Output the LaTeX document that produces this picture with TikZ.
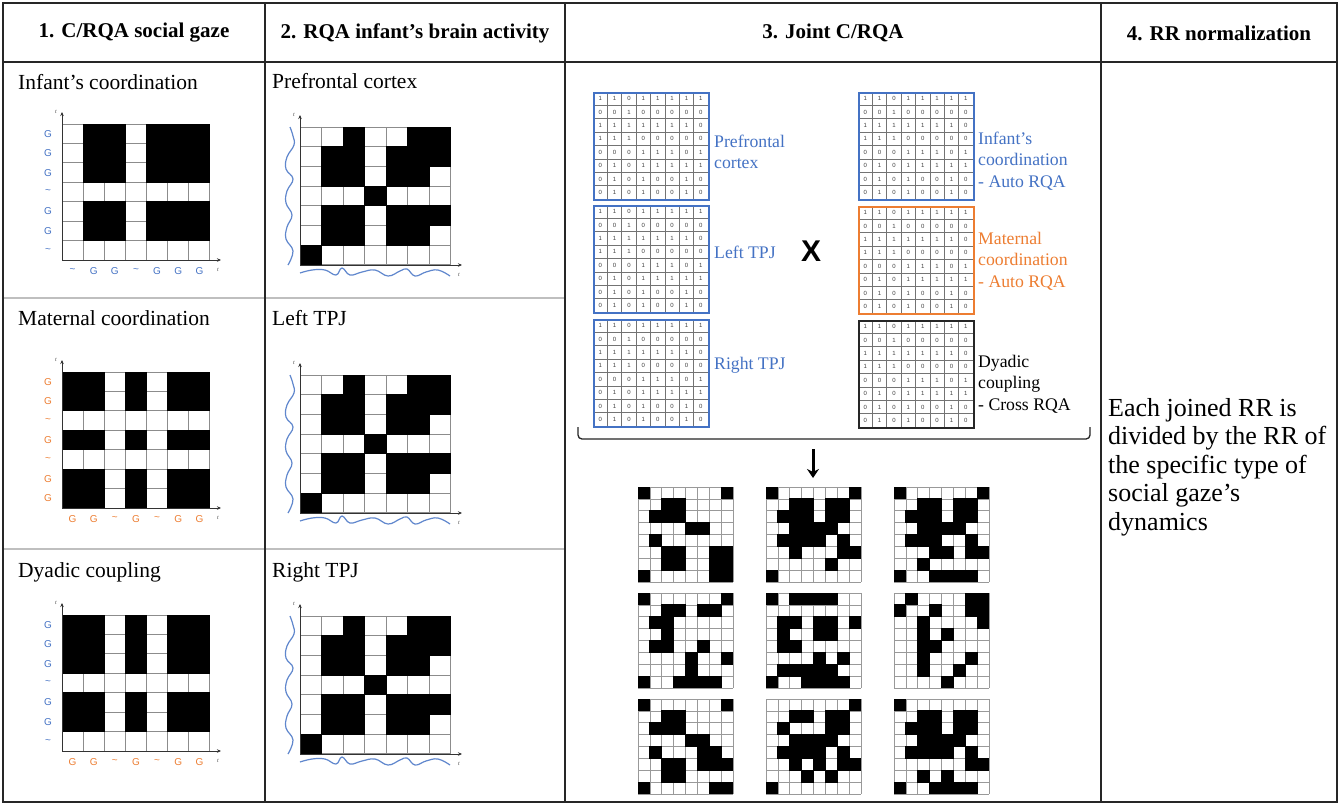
\documentclass[tikz,border=0pt]{standalone}
\usepackage{fontspec}
\setmainfont{Liberation Serif}
\newfontfamily\lsans{Liberation Sans}
\usetikzlibrary{arrows.meta}
\definecolor{obblue}{HTML}{4472C4}
\definecolor{oborange}{HTML}{ED7D31}

% generic black/white cell matrix: name, x0, y0, cw, ch, ncols, nrows, rows
\newcommand{\cellgrid}[8]{%
  \foreach \i in {0,...,#6} {\draw[gridline] ({#2+\i*#4},#3) -- ({#2+\i*#4},{#3+#7*#5});}
  \foreach \j in {0,...,#7} {\draw[gridline] (#2,{#3+\j*#5}) -- ({#2+#6*#4},{#3+\j*#5});}
  \foreach \row [count=\r from 0] in {#8} {%
    \foreach \v [count=\c from 0] in \row {%
      \ifnum\v=1
        \fill[black] ({#2+\c*#4-0.45},{#3+\r*#5-0.45}) rectangle ({#2+(\c+1)*#4+0.45},{#3+(\r+1)*#5+0.45});
      \fi
    }%
  }%
  \node[inner sep=0, minimum width={#6*#4}, minimum height={#7*#5}, anchor=north west] (#1) at (#2,#3) {};
}

% binary digit matrix: name, x0, y0, colour
\newcommand{\binmat}[4]{%
  \foreach \j in {1,...,7} {\draw[bingrid] (#2,{#3+\j*13.375}) -- ({#2+115},{#3+\j*13.375});}
  \foreach \i in {1,...,7} {\draw[bingrid] ({#2+\i*14.375},#3) -- ({#2+\i*14.375},{#3+107});}
  \foreach \row [count=\r from 0] in {{1,1,0,1,1,1,1,1},{0,0,1,0,0,0,0,0},{1,1,1,1,1,1,1,0},{1,1,1,0,0,0,0,0},{0,0,0,1,1,1,0,1},{0,1,0,1,1,1,1,1},{0,1,0,1,0,0,1,0},{0,1,0,1,0,0,1,0}}{%
    \foreach \d [count=\c from 0] in \row {%
      \node[digit] (#1-\r-\c) at ({#2+(\c+0.5)*14.375},{#3+(\r+0.5)*13.375}) {\d};
    }%
  }%
  \node[draw=#4, line width=1.8, minimum width=115, minimum height=107, inner sep=0, anchor=north west] (#1) at (#2,#3) {};
}

% axes: name, x0, y0, w, h
\newcommand{\gaxes}[5]{%
  \coordinate (#1o) at (#2,{#3+#5});
  \coordinate (#1yt) at (#2,{#3-12});
  \coordinate (#1xt) at ({#2+#4+11},{#3+#5});
  \draw[axisline] (#1o) -- (#1yt);
  \draw[axisline] (#1o) -- (#1xt);
  \node[tlab] (#1ty) at ({#2-6},{#3-12}) {t};
  \node[tlab] (#1tx) at ({#2+#4+8},{#3+#5+10}) {t};
}

% gaze labels: name, x0, y0, rowlist, rowcolour, collist, colcolour
\newcommand{\gazelabels}[7]{%
  \foreach \lb [count=\i from 0] in {#4} {\node[glab, text=#5] (#1r\i) at ({#2-14},{#3+(\i+0.5)*19.43}) {\lb};}
  \foreach \lb [count=\i from 0] in {#6} {\node[glab, text=#7] (#1c\i) at ({#2+(\i+0.5)*21.14},{#3+147}) {\lb};}
}

% waves: x0, y0 of matrix (w=151,h=138)
\newcommand{\waves}[2]{%
  \draw[wave] plot[smooth, tension=0.7] coordinates {({#1-10},#2) ({#1-7},{#2+9}) ({#1-6},{#2+18}) ({#1-13},{#2+30}) ({#1-14},{#2+42}) ({#1-7},{#2+52}) ({#1-13},{#2+64}) ({#1-14},{#2+76}) ({#1-8},{#2+88}) ({#1-13},{#2+100}) ({#1-14},{#2+112}) ({#1-7},{#2+124}) ({#1-12},{#2+138})};
  \draw[wave] plot[smooth, tension=0.7] coordinates {(#1,{#2+146}) ({#1+12},{#2+143}) ({#1+25},{#2+143}) ({#1+36},{#2+148}) ({#1+42},{#2+141}) ({#1+50},{#2+148}) ({#1+62},{#2+145}) ({#1+75},{#2+143}) ({#1+88},{#2+149}) ({#1+100},{#2+144}) ({#1+107},{#2+142}) ({#1+115},{#2+149}) ({#1+126},{#2+145}) ({#1+138},{#2+143}) ({#1+150},{#2+149})};
}

\begin{document}
\begin{tikzpicture}[x=1pt,y=-1pt,
  tableline/.style={draw=black!85, line width=1.6},
  rowsep/.style={draw=black!25, line width=1.2},
  head/.style={font=\bfseries\fontsize{21}{24}\selectfont, inner sep=0},
  title/.style={font=\fontsize{21.5}{25}\selectfont, anchor=base west, inner sep=0},
  axisline/.style={draw=black!80, line width=0.7, -{Stealth[length=4,width=3.5]}},
  tlab/.style={font=\fontsize{6}{6}\selectfont\itshape, text=black!70, inner sep=0},
  glab/.style={font=\lsans\fontsize{10}{10}\selectfont, inner sep=0},
  wave/.style={draw=obblue!85, line width=1.2},
  digit/.style={font=\lsans\fontsize{6}{6}\selectfont, text=black!75, inner sep=0},
  bingrid/.style={draw=black!55, line width=0.7},
  lab3/.style={font=\fontsize{17.7}{21.5}\selectfont, align=left, anchor=west, inner sep=0},
]
\useasboundingbox (0,0) rectangle (1340,804);
\fill[white] (0,0) rectangle (1340,804);

% ---------- table ----------
\draw[rowsep] (3,298) -- (565,298);
\draw[rowsep] (3,549) -- (565,549);
\draw[tableline] (3,3) rectangle (1337,802);
\draw[tableline] (3,62) -- (1337,62);
\draw[tableline] (265,3) -- (265,802);
\draw[tableline] (565,3) -- (565,802);
\draw[tableline] (1101,3) -- (1101,802);

\node[head] (h1) at (134,33) {1. C/RQA social gaze};
\node[head] (h2) at (415,33) {2. RQA infant’s brain activity};
\node[head] (h3) at (833,33) {3. Joint C/RQA};
\node[head] (h4) at (1219,33) {4. RR normalization};

% ---------- column 1 ----------
\node[title] (t11) at (18,89) {Infant’s coordination};
\node[title] (t12) at (18,325) {Maternal coordination};
\node[title] (t13) at (18,577) {Dyadic coupling};

\begin{scope}[gridline/.style={draw=black!45, line width=1}]
\cellgrid{ic}{62}{124}{21.14}{19.43}{7}{7}{{0,1,1,0,1,1,1},{0,1,1,0,1,1,1},{0,1,1,0,1,1,1},{0,0,0,0,0,0,0},{0,1,1,0,1,1,1},{0,1,1,0,1,1,1},{0,0,0,0,0,0,0}}
\cellgrid{mc}{62}{372}{21.14}{19.43}{7}{7}{{1,1,0,1,0,1,1},{1,1,0,1,0,1,1},{0,0,0,0,0,0,0},{1,1,0,1,0,1,1},{0,0,0,0,0,0,0},{1,1,0,1,0,1,1},{1,1,0,1,0,1,1}}
\cellgrid{dc}{62}{615}{21.14}{19.43}{7}{7}{{1,1,0,1,0,1,1},{1,1,0,1,0,1,1},{1,1,0,1,0,1,1},{0,0,0,0,0,0,0},{1,1,0,1,0,1,1},{1,1,0,1,0,1,1},{0,0,0,0,0,0,0}}
\end{scope}
\gaxes{ica}{62}{124}{148}{136}
\gaxes{mca}{62}{372}{148}{136}
\gaxes{dca}{62}{615}{148}{136}
\gazelabels{icl}{62}{124}{G,G,G,\textasciitilde,G,G,\textasciitilde}{obblue}{\textasciitilde,G,G,\textasciitilde,G,G,G}{obblue}
\gazelabels{mcl}{62}{372}{G,G,\textasciitilde,G,\textasciitilde,G,G}{oborange}{G,G,\textasciitilde,G,\textasciitilde,G,G}{oborange}
\gazelabels{dcl}{62}{615}{G,G,G,\textasciitilde,G,G,\textasciitilde}{obblue}{G,G,\textasciitilde,G,\textasciitilde,G,G}{oborange}

% ---------- column 2 ----------
\node[title] (t21) at (272,88) {Prefrontal cortex};
\node[title] (t22) at (272,325) {Left TPJ};
\node[title] (t23) at (272,577) {Right TPJ};

\begin{scope}[gridline/.style={draw=black!45, line width=1}]
\foreach \nm/\yy in {pfc/127,ltpj/375,rtpj/616}{
\cellgrid{\nm}{300}{\yy}{21.57}{19.71}{7}{7}{{0,0,1,0,0,1,1},{0,1,1,0,1,1,1},{0,1,1,0,1,1,0},{0,0,0,1,0,0,0},{0,1,1,0,1,1,1},{0,1,1,0,1,1,0},{1,0,0,0,0,0,0}}
}
\end{scope}
\gaxes{pfa}{300}{127}{151}{138}
\gaxes{lta}{300}{375}{151}{138}
\gaxes{rta}{300}{616}{151}{138}
\waves{300}{127}
\waves{300}{375}
\waves{300}{616}

% ---------- column 3 ----------
\binmat{bpfc}{593}{92}{obblue}
\binmat{bltpj}{593}{205}{obblue}
\binmat{brtpj}{593}{319}{obblue}
\binmat{binf}{858}{92}{obblue}
\binmat{bmat}{858}{206}{oborange}
\binmat{bdya}{858}{320}{black!85}

\node[lab3, text=obblue] (lpfc) at (714,152) {Prefrontal\\cortex};
\node[lab3, text=obblue] (lltpj) at (714,252) {Left TPJ};
\node[lab3, text=obblue] (lrtpj) at (714,365) {Right TPJ};
\node[lab3, text=obblue] (linf) at (978,161) {Infant’s\\coordination\\- Auto RQA};
\node[lab3, text=oborange] (lmat) at (978,261) {Maternal\\coordination\\- Auto RQA};
\node[lab3, text=black] (ldya) at (978,384) {Dyadic\\coupling\\- Cross RQA};
\node[font=\lsans\bfseries\fontsize{30}{30}\selectfont, inner sep=0] (times) at (811,251) {X};

\coordinate (brL) at (578,427);
\coordinate (brLb) at (578,439);
\coordinate (brRb) at (1090,439);
\coordinate (brR) at (1090,427);
\draw[line width=1.3, black!85, rounded corners=4] (brL) -- (brLb) -- (brRb) -- (brR);
\coordinate (arS) at (813,449);
\coordinate (arE) at (813,478);
\draw[line width=3, -{Stealth[length=9,width=12]}] (arS) -- (arE);

\begin{scope}[gridline/.style={draw=black!40, line width=0.7}]
\cellgrid{r1}{638}{487}{11.875}{11.875}{8}{8}{{1,0,0,0,0,0,0,1},{0,0,1,1,0,0,0,0},{0,1,1,1,0,0,0,0},{0,0,0,0,1,1,0,0},{0,1,0,0,0,0,0,0},{0,0,1,1,0,0,1,1},{0,0,1,1,0,0,1,1},{1,0,0,0,0,0,1,1}}
\cellgrid{r2}{766}{487}{11.875}{11.875}{8}{8}{{1,0,0,0,0,0,0,1},{0,0,1,1,0,1,1,0},{0,1,1,1,0,1,1,0},{0,0,1,1,1,1,0,0},{0,1,1,1,1,0,1,0},{0,0,1,0,0,0,1,1},{0,0,0,0,0,1,0,0},{1,0,0,0,0,0,0,0}}
\cellgrid{r3}{894}{487}{11.875}{11.875}{8}{8}{{1,0,0,0,0,0,0,1},{0,0,1,1,0,1,1,0},{0,1,1,1,0,1,1,0},{0,0,1,1,1,1,0,0},{0,1,1,1,0,0,1,0},{0,0,0,1,1,0,1,1},{0,0,1,0,0,0,0,0},{1,0,0,1,1,1,1,0}}
\cellgrid{r4}{638}{593}{11.875}{11.875}{8}{8}{{1,0,0,0,0,0,0,1},{0,0,1,1,0,1,1,0},{0,1,1,0,0,0,0,0},{0,0,1,0,0,0,0,0},{0,1,1,0,0,1,0,0},{0,0,0,0,1,0,0,1},{0,0,0,0,1,0,0,0},{1,0,0,1,1,1,1,0}}
\cellgrid{r5}{766}{593}{11.875}{11.875}{8}{8}{{1,0,1,1,1,1,0,0},{0,0,0,0,0,0,0,0},{0,1,1,0,1,1,0,1},{0,1,0,0,1,1,0,0},{0,1,1,0,0,0,0,0},{0,0,0,0,1,0,1,0},{0,1,1,1,1,1,0,0},{1,0,0,1,1,1,1,0}}
\cellgrid{r6}{894}{593}{11.875}{11.875}{8}{8}{{0,1,0,0,0,0,1,1},{1,0,0,1,0,0,1,1},{0,0,1,0,0,0,0,1},{0,0,1,0,1,0,0,0},{0,0,1,1,0,0,0,0},{0,0,1,0,0,0,1,0},{0,0,1,0,0,1,0,0},{0,0,0,0,1,0,0,0}}
\cellgrid{r7}{638}{699}{11.875}{11.875}{8}{8}{{1,0,0,0,0,0,0,1},{0,0,1,1,0,0,0,0},{0,1,1,1,0,0,0,0},{0,0,0,0,1,1,0,0},{0,1,0,0,0,1,1,0},{0,0,1,1,0,1,1,1},{0,0,1,1,0,0,0,0},{1,0,0,0,0,0,1,1}}
\cellgrid{r8}{766}{699}{11.875}{11.875}{8}{8}{{0,0,0,0,0,0,0,1},{0,0,1,1,0,1,1,0},{0,1,0,0,0,1,1,0},{0,0,1,1,1,1,0,0},{0,1,1,1,1,0,1,0},{0,0,1,0,1,0,1,1},{0,0,0,1,0,1,0,0},{1,0,0,0,0,0,0,0}}
\cellgrid{r9}{894}{699}{11.875}{11.875}{8}{8}{{1,0,0,0,0,0,0,0},{0,0,1,1,0,1,1,0},{0,1,1,1,0,1,1,0},{0,0,1,1,1,1,0,0},{0,1,1,1,1,0,1,0},{0,0,0,0,0,0,1,1},{0,0,1,0,1,0,0,0},{1,0,0,1,1,1,1,0}}
\end{scope}

% ---------- column 4 ----------
\node[font=\fontsize{26}{28.5}\selectfont, align=left, anchor=west, inner sep=0] (c4) at (1108,467) {Each joined RR is\\divided by the RR of\\the specific type of\\social gaze’s\\dynamics};
\end{tikzpicture}
\end{document}
